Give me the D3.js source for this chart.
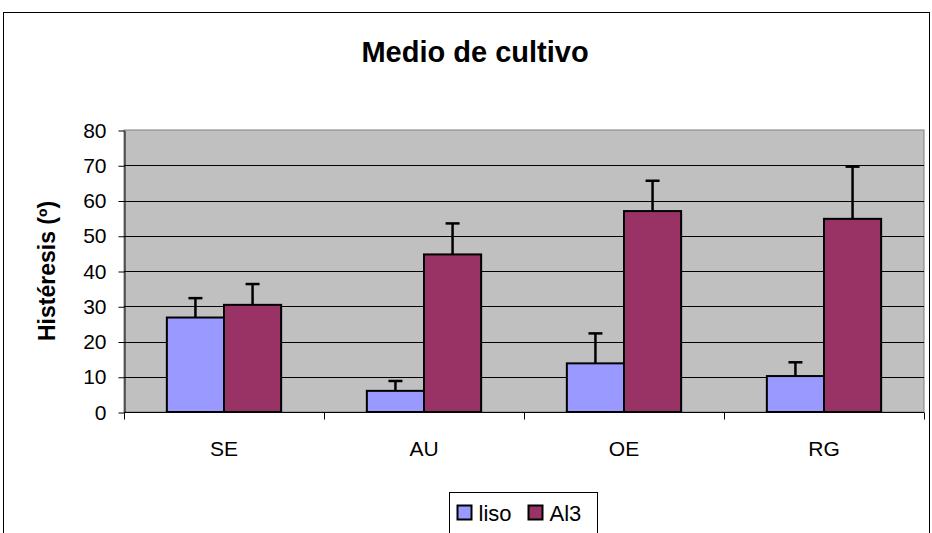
<!DOCTYPE html>
<html>
<head>
<meta charset="utf-8">
<script src="https://cdn.jsdelivr.net/npm/d3@7"></script>
<style>
  body { margin: 0; background: #fff; }
  svg { display: block; font-family: Arial, "Liberation Sans", sans-serif; }
</style>
</head>
<body>
<div id="chart"></div>
<script>
// chart data
const categories = ["SE", "AU", "OE", "RG"];
const seriesNames = ["liso", "Al3"];
const lisoValues = [26.8, 6.0, 13.8, 10.2];
const lisoErrors = [5.5, 2.8, 8.5, 3.9];
const al3Values = [30.4, 44.7, 57.0, 54.8];
const al3Errors = [5.9, 8.8, 8.6, 14.8];
const yTicks = [0, 10, 20, 30, 40, 50, 60, 70, 80];
const colors = ["#9999FF", "#993366"];

const width = 932, height = 533;
const plot = { left: 124, top: 130, right: 924, bottom: 412 };

var svg = d3.select("#chart").append("svg")
    .attr("width", width)
    .attr("height", height);

// outer chart border
svg.append("rect")
    .attr("x", 3.5).attr("y", 12.5)
    .attr("width", 926).attr("height", 540)
    .attr("fill", "#fff").attr("stroke", "#000").attr("stroke-width", 1);

var x = d3.scaleBand().domain(categories).range([plot.left, plot.right]).paddingInner(0).paddingOuter(0);
var y = d3.scaleLinear().domain([0, 80]).range([plot.bottom, plot.top]);

// plot area background
svg.append("rect")
    .attr("x", plot.left).attr("y", plot.top)
    .attr("width", plot.right - plot.left).attr("height", plot.bottom - plot.top)
    .attr("fill", "#C0C0C0").attr("stroke", "#808080").attr("stroke-width", 1);

// gridlines
svg.append("g").selectAll("line")
    .data(yTicks.filter(d => d > 0 && d < 80))
    .enter().append("line")
    .attr("x1", plot.left).attr("x2", plot.right)
    .attr("y1", d => Math.round(y(d)) + 0.5).attr("y2", d => Math.round(y(d)) + 0.5)
    .attr("stroke", "#000").attr("stroke-width", 1);

// y axis
var yAxis = svg.append("g")
    .attr("transform", "translate(" + (plot.left + 0.5) + ",0.5)")
    .call(d3.axisLeft(y).tickValues(yTicks).tickSize(6).tickPadding(12).tickSizeOuter(0));
yAxis.select(".domain").attr("stroke", "#000");
yAxis.selectAll(".tick line").attr("stroke", "#000");
yAxis.selectAll("text").attr("font-size", 21).attr("fill", "#000")
    .attr("font-family", "Arial, 'Liberation Sans', sans-serif");

// x axis
var xAxis = svg.append("g")
    .attr("transform", "translate(0," + (plot.bottom + 0.5) + ")")
    .call(d3.axisBottom(x).tickSize(0).tickPadding(29).tickSizeOuter(0));
xAxis.select(".domain").attr("stroke", "#000").attr("d", "M" + plot.left + ",0H" + plot.right);
xAxis.selectAll("text").attr("font-size", 21).attr("fill", "#000")
    .attr("font-family", "Arial, 'Liberation Sans', sans-serif");
// category boundary ticks
xAxis.append("g").selectAll("line")
    .data(categories.concat(["end"]))
    .enter().append("line")
    .attr("x1", (d, i) => Math.round(plot.left + i * x.bandwidth()) + 0.5)
    .attr("x2", (d, i) => Math.round(plot.left + i * x.bandwidth()) + 0.5)
    .attr("y1", 0).attr("y2", 7)
    .attr("stroke", "#000");

// bars: gap width 150% like Excel
var barW = x.bandwidth() / 3.5;
var sub = d3.scaleBand().domain(seriesNames).range([0, barW * 2]);
var series = [
  { name: "liso", values: lisoValues, errors: lisoErrors, color: colors[0] },
  { name: "Al3", values: al3Values, errors: al3Errors, color: colors[1] }
];

series.forEach(function(s) {
  var g = svg.append("g");
  var off = x.bandwidth() * 0.75 / 3.5 + sub(s.name);
  // error bars (plus only)
  g.selectAll("line.err")
    .data(s.values)
    .enter().append("line")
    .attr("x1", (d, i) => x(categories[i]) + off + barW / 2)
    .attr("x2", (d, i) => x(categories[i]) + off + barW / 2)
    .attr("y1", d => y(d))
    .attr("y2", (d, i) => y(d + s.errors[i]))
    .attr("stroke", "#000").attr("stroke-width", 2.5);
  g.selectAll("line.cap")
    .data(s.values)
    .enter().append("line")
    .attr("x1", (d, i) => x(categories[i]) + off + barW / 2 - 7)
    .attr("x2", (d, i) => x(categories[i]) + off + barW / 2 + 7)
    .attr("y1", (d, i) => y(d + s.errors[i]))
    .attr("y2", (d, i) => y(d + s.errors[i]))
    .attr("stroke", "#000").attr("stroke-width", 2.5);
  g.selectAll("rect")
    .data(s.values)
    .enter().append("rect")
    .attr("x", (d, i) => x(categories[i]) + off)
    .attr("y", d => y(d))
    .attr("width", barW)
    .attr("height", d => y(0) - y(d))
    .attr("fill", s.color)
    .attr("stroke", "#000").attr("stroke-width", 2);
});

// title
svg.append("text")
    .attr("x", 475).attr("y", 62)
    .attr("text-anchor", "middle")
    .attr("font-size", 29).attr("font-weight", "bold")
    .text("Medio de cultivo");

// y axis title
svg.append("text")
    .attr("transform", "translate(55," + ((plot.top + plot.bottom) / 2) + ") rotate(-90)")
    .attr("text-anchor", "middle")
    .attr("font-size", 23).attr("font-weight", "bold")
    .text("Histéresis (º)");

// legend
var legend = svg.append("g").attr("transform", "translate(449.5,492.5)");
legend.append("rect")
    .attr("width", 148).attr("height", 50)
    .attr("fill", "#fff").attr("stroke", "#000");
var items = legend.selectAll("g.item")
    .data(series)
    .enter().append("g")
    .attr("transform", (d, i) => "translate(" + [8, 79][i] + ",13)");
items.append("rect")
    .attr("width", 14).attr("height", 14)
    .attr("fill", d => d.color).attr("stroke", "#000").attr("stroke-width", 2);
items.append("text")
    .attr("x", 21).attr("y", 15)
    .attr("font-size", 22)
    .text(d => d.name);
</script>
</body>
</html>
